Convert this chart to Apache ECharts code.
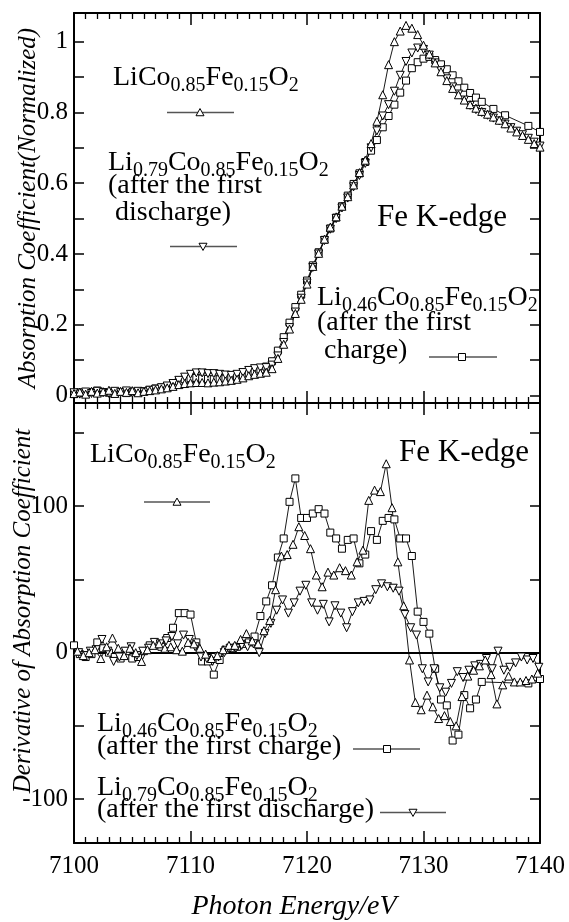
<!DOCTYPE html>
<html>
<head>
<meta charset="utf-8">
<script src="https://cdn.jsdelivr.net/npm/echarts/dist/echarts.min.js"></script>
<style>
html,body{margin:0;padding:0;background:#fff;}
#chart{width:569px;height:922px;}
</style>
</head>
<body>
<div id="chart"></div>
<script>
// ---------- DATA ----------
// Top panel: normalized absorption (energies in eV)
const topEnergy = [7100,7100.5,7101,7101.5,7102,7102.5,7103,7103.5,7104,7104.5,
  7105,7105.5,7106,7106.5,7107,7107.5,7108,7108.5,7109,7109.5,
  7110,7110.5,7111,7111.5,7112,7112.5,7113,7113.5,7114,7114.5,
  7115,7115.5,7116,7116.5,7117,7117.5,7118,7118.5,7119,7119.5,
  7120,7120.5,7121,7121.5,7122,7122.5,7123,7123.5,7124,7124.5,
  7125,7125.5,7126,7126.5,7127,7127.5,7128,7128.5,7129,7129.5,
  7130,7130.5,7131,7131.5,7132,7132.5,7133,7133.5,7134,7134.5,
  7135,7135.5,7136,7136.5,7137,7137.5,7138,7138.5,7139,7139.5,7140];
const topEnergyCharge = [7100,7100.5,7101,7101.5,7102,7102.5,7103,7103.5,7104,7104.5,
  7105,7105.5,7106,7106.5,7107,7107.5,7108,7108.5,7109,7109.5,
  7110,7110.5,7111,7111.5,7112,7112.5,7113,7113.5,7114,7114.5,
  7115,7115.5,7116,7116.5,7117,7117.5,7118,7118.5,7119,7119.5,
  7120,7120.5,7121,7121.5,7122,7122.5,7123,7123.5,7124,7124.5,
  7125,7125.5,7126,7126.5,7127,7127.5,7128,7128.5,7129,7129.5,
  7130,7130.5,7131,7131.5,7132,7132.5,7133,7133.5,7134,7134.5,
  7135,7136,7137,7139,7140];
const absPristine = [.006,.010,.004,.012,.007,.011,.015,.006,.012,.009,
  .014,.008,.012,.014,.016,.019,.022,.026,.031,.034,
  .036,.037,.037,.036,.038,.039,.041,.043,.046,.050,
  .056,.060,.063,.066,.076,.105,.145,.188,.232,.272,
  .315,.365,.402,.442,.476,.505,.535,.562,.595,.630,
  .665,.712,.775,.850,.935,1.000,1.030,1.046,1.038,1.020,
  .990,.965,.940,.915,.890,.868,.850,.835,.822,.812,
  .803,.795,.787,.778,.768,.756,.745,.735,.724,.712,.702];
const absDischarge = [.008,.004,.010,.006,.012,.008,.006,.012,.008,.013,
  .007,.012,.010,.015,.018,.022,.027,.034,.043,.052,
  .060,.064,.064,.062,.062,.060,.058,.057,.060,.065,
  .071,.076,.078,.079,.086,.112,.150,.192,.236,.275,
  .318,.362,.400,.438,.470,.500,.530,.558,.590,.622,
  .656,.700,.748,.790,.822,.860,.905,.944,.968,.982,
  .978,.962,.940,.918,.895,.872,.852,.835,.820,.808,
  .800,.792,.784,.776,.767,.757,.747,.737,.727,.716,.705];
const absCharge = [.004,.009,.006,.010,.014,.010,.008,.006,.010,.007,
  .011,.009,.012,.016,.020,.023,.027,.033,.040,.046,
  .049,.050,.048,.047,.046,.046,.048,.051,.054,.058,
  .063,.068,.074,.082,.097,.127,.165,.206,.250,.285,
  .325,.368,.405,.440,.472,.503,.535,.565,.598,.628,
  .660,.692,.722,.758,.790,.822,.856,.890,.925,.942,
  .952,.957,.948,.936,.922,.905,.888,.870,.855,.842,
  .830,.810,.792,.762,.745];

// Bottom panel: derivative of absorption coefficient
const derEnergyPristine = [7100.3,7100.8,7101.3,7101.8,7102.3,7102.8,7103.3,7103.8,7104.3,7104.8,
  7105.3,7105.8,7106.3,7106.8,7107.3,7107.8,7108.3,7108.8,7109.3,7109.8,
  7110.3,7110.8,7111.3,7111.8,7112.3,7112.8,7113.3,7113.8,7114.3,7114.8,
  7115.3,7115.8,7116.3,7116.8,7117.3,7117.8,7118.3,7118.8,7119.3,7119.8,
  7120.3,7120.8,7121.3,7121.8,7122.3,7122.8,7123.3,7123.8,7124.3,7124.8,
  7125.3,7125.8,7126.3,7126.8,7127.3,7127.8,7128.3,7128.8,7129.3,7129.8,
  7130.3,7130.8,7131.3,7131.8,7132.3,7132.8,7133.3,7133.8,7134.3,7134.8,
  7135.3,7135.8,7136.3,7136.8,7137.3,7137.8,7138.3,7138.8,7139.3,7139.8];
const derPristine = [1,-2,0,2,-4,4,10,3,-2,3,
  0,-6,2,5,6,3,4,2,1,7,
  6,3,-1,-4,-2,2,5,5,9,13,
  8,6,15,22,43,66,67,74,86,80,
  71,53,45,55,53,58,56,53,62,70,
  104,111,110,129,99,62,32,-5,-34,-39,
  -29,-37,-45,-43,-47,-50,-30,-16,-12,-9,
  -5,-15,-35,-22,-16,-20,-20,-19,-18,-14];
const derEnergyDischarge = [7100.4,7100.9,7101.4,7101.9,7102.4,7102.9,7103.4,7103.9,7104.4,7104.9,
  7105.4,7105.9,7106.4,7106.9,7107.4,7107.9,7108.4,7108.9,7109.4,7109.9,
  7110.4,7110.9,7111.4,7111.9,7112.4,7112.9,7113.4,7113.9,7114.4,7114.9,
  7115.4,7115.9,7116.4,7116.9,7117.4,7117.9,7118.4,7118.9,7119.4,7119.9,
  7120.4,7120.9,7121.4,7121.9,7122.4,7122.9,7123.4,7123.9,7124.4,7124.9,
  7125.4,7125.9,7126.4,7126.9,7127.4,7127.9,7128.4,7128.9,7129.4,7129.9,
  7130.4,7130.9,7131.4,7131.9,7132.4,7132.9,7133.4,7133.9,7134.4,7134.9,
  7135.4,7135.9,7136.4,7136.9,7137.4,7137.9,7138.4,7138.9,7139.4,7139.9];
const derDischarge = [0,-2,1,2,9,1,-6,-3,1,4,
  -2,1,3,7,6,8,11,6,12,9,
  4,-3,-4,-6,-3,0,3,3,5,4,
  6,0,13,20,29,36,27,34,42,46,
  34,29,33,21,32,27,17,28,34,35,
  36,43,47,45,44,42,26,17,12,-11,
  -20,-11,-24,-27,-21,-13,-17,-12,-9,-8,
  -4,-11,1,-12,-10,-7,-3,-5,-4,-10];
const derEnergyCharge = [7100,7100.5,7101,7101.5,7102,7102.5,7103,7103.5,7104,7104.5,
  7105,7105.5,7106,7106.5,7107,7107.5,7108,7108.5,7109,7109.5,
  7110,7110.5,7111,7111.5,7112,7112.5,7113,7113.5,7114,7114.5,
  7115,7115.5,7116,7116.5,7117,7117.5,7118,7118.5,7119,7119.5,
  7120,7120.5,7121,7121.5,7122,7122.5,7123,7123.5,7124,7124.5,
  7125,7125.5,7126,7126.5,7127,7127.5,7128,7128.5,7129,7129.5,
  7130,7130.5,7131,7131.5,7132,7132.5,7133,7133.5,7134,7134.5,
  7135,7139,7140];
const derCharge = [5,-1,-3,-1,7,3,0,-3,-4,1,
  -4,-3,1,5,6,4,10,17,27,27,
  26,7,-6,-6,-15,-5,2,3,4,6,
  7,11,25,35,46,65,78,103,119,92,
  92,95,98,95,82,78,71,77,78,61,
  67,83,77,90,92,91,78,78,66,28,
  21,13,-11,-32,-36,-60,-56,-29,-38,-32,
  -20,-21,-18];

const xTicks = [7100,7110,7120,7130,7140];
const topYTickLabels = ['0','0.2','0.4','0.6','0.8','1'];
const botYTickLabels = ['-100','0','100'];

// ---------- CHART ----------
const F = 'Liberation Serif';
const chart = echarts.init(document.getElementById('chart'), null, {renderer:'canvas', width:569, height:922});

const pair = (xs, ys) => ys.map((v, i) => [xs[i], v]);

const L = 74, R = 29, TOP1 = 13, H1 = 390, TOP2 = 403, H2 = 440;

function xAx(grid, pos, labels) {
  return {
    type:'value', gridIndex:grid, position:pos, min:7100, max:7140, interval:10,
    axisLine:{show:true, onZero:false, lineStyle:{color:'#000', width:2}},
    axisTick:{show:true, inside:true, length:12, lineStyle:{color:'#000', width:1.5}},
    minorTick:{show:true, splitNumber:10, length:6, lineStyle:{color:'#000', width:1.3}},
    splitLine:{show:false}, minorSplitLine:{show:false},
    axisLabel:{show:labels, margin:11, color:'#000', fontFamily:F, fontSize:25,
      formatter: v => (xTicks.indexOf(v) >= 0 ? String(v) : '')}
  };
}
function yAx(grid, pos, min, max, step, labels, fmt) {
  return {
    type:'value', gridIndex:grid, position:pos, min:min, max:max,
    minInterval:step, maxInterval:step, splitNumber:Math.round((max-min)/step),
    axisLine:{show:true, onZero:false, lineStyle:{color:'#000', width:2}},
    axisTick:{show:true, inside:true, length:10, lineStyle:{color:'#000', width:1.5}},
    splitLine:{show:false},
    axisLabel:{show:labels, margin:6, color:'#000', fontFamily:F, fontSize:25, formatter:fmt,
      showMinLabel:true, showMaxLabel:true}
  };
}
const topFmt = v => {
  const k = Math.round(v*10);
  if (Math.abs(v*10 - k) > 1e-6 || k % 2 !== 0) return '';
  const s = k === 0 ? '0' : (k === 10 ? '1' : (k/10).toFixed(1));
  return topYTickLabels.indexOf(s) >= 0 ? s : '';
};
const botFmt = v => {
  const s = String(Math.round(v));
  return (Math.abs(v - Math.round(v)) < 1e-6 && botYTickLabels.indexOf(s) >= 0) ? s : '';
};

const markerStyle = {color:'#fff', borderColor:'#000', borderWidth:1};
function ser(name, data, xi, yi, symbol, size, rotate) {
  return {
    name, type:'line', data, xAxisIndex:xi, yAxisIndex:yi,
    symbol, symbolSize:size, symbolRotate:rotate||0, showSymbol:true, showAllSymbol:true,
    lineStyle:{color:'#000', width:0.9}, itemStyle:markerStyle,
    emphasis:{disabled:true}, silent:true, animation:false, clip:false, z:3
  };
}

const SUB = {s:{fontSize:20, fontFamily:F, fill:'#000', padding:[16,0,0,0], verticalAlign:'middle'}};
function txt(x, y, text, size) {
  return {type:'text', x, y, silent:true, z:10,
    style:{text, fontSize:size||28, fontFamily:F, fill:'#000', align:'left', verticalAlign:'middle', rich:SUB}};
}
function title(x, y, text, size, rot) {
  return {type:'text', x, y, rotation:rot||0, silent:true, z:10,
    style:{text, fontSize:size, fontFamily:F, fontStyle:'italic', fill:'#000', align:'center', verticalAlign:'middle'}};
}
function tri(cx, cy, s, down) {
  const h = s*0.9;
  const pts = down
    ? [[cx - s/2, cy - h*0.45],[cx + s/2, cy - h*0.45],[cx, cy + h*0.55]]
    : [[cx, cy - h*0.55],[cx - s/2, cy + h*0.45],[cx + s/2, cy + h*0.45]];
  return {type:'polygon', shape:{points:pts}, silent:true, z:11, style:{fill:'#fff', stroke:'#000', lineWidth:1}};
}
function sq(cx, cy, s) {
  return {type:'rect', shape:{x:cx - s/2, y:cy - s/2, width:s, height:s}, silent:true, z:11, style:{fill:'#fff', stroke:'#000', lineWidth:1}};
}
function lline(x1, x2, y) {
  return {type:'line', shape:{x1, y1:y, x2, y2:y}, silent:true, z:10, style:{stroke:'#555', lineWidth:1.3}};
}

const LICO = 'LiCo{s|0.85}Fe{s|0.15}O{s|2}';
const LI079 = 'Li{s|0.79}Co{s|0.85}Fe{s|0.15}O{s|2}';
const LI046 = 'Li{s|0.46}Co{s|0.85}Fe{s|0.15}O{s|2}';

const option = {
  animation:false,
  backgroundColor:'#fff',
  grid:[
    {left:L, right:R, top:TOP1, height:H1, containLabel:false},
    {left:L, right:R, top:TOP2, height:H2, containLabel:false}
  ],
  xAxis:[ xAx(0,'bottom',false), xAx(0,'top',false), xAx(1,'top',false), xAx(1,'bottom',true) ],
  yAxis:[
    yAx(0,'left',-0.021,1.081,0.1,true,topFmt),
    yAx(0,'right',-0.021,1.081,0.1,false,topFmt),
    yAx(1,'left',-130,170.5,50,true,botFmt),
    yAx(1,'right',-130,170.5,50,false,botFmt)
  ],
  series:[
    ser('absCharge', pair(topEnergyCharge, absCharge), 0, 0, 'rect', 7),
    ser('absDischarge', pair(topEnergy, absDischarge), 0, 0, 'triangle', 8, 180),
    ser('absPristine', pair(topEnergy, absPristine), 0, 0, 'triangle', 8),
    Object.assign(ser('derCharge', pair(derEnergyCharge, derCharge), 3, 2, 'rect', 7), {
      markLine:{silent:true, symbol:['none','none'], label:{show:false}, animation:false,
        lineStyle:{color:'#000', width:2, type:'solid'}, emphasis:{disabled:true}, data:[{yAxis:0}], z:2}
    }),
    ser('derDischarge', pair(derEnergyDischarge, derDischarge), 3, 2, 'triangle', 8, 180),
    ser('derPristine', pair(derEnergyPristine, derPristine), 3, 2, 'triangle', 8)
  ],
  graphic:[
    // top panel annotations
    txt(113, 78, LICO), lline(167, 234, 112.5), tri(200, 112.5, 8),
    txt(108, 163, LI079), txt(108, 186, '(after the first'), txt(115, 213, 'discharge)'),
    lline(170, 237, 246.5), tri(203, 246.5, 8, true),
    txt(377, 218, 'Fe K-edge', 31),
    txt(317, 298, LI046), txt(317, 323, '(after the first'), txt(324, 351, 'charge)'),
    lline(429, 497, 357), sq(462, 357, 7),
    // bottom panel annotations
    txt(90, 455, LICO), lline(144, 210, 502), tri(177, 502, 8),
    txt(399, 453, 'Fe K-edge', 31),
    txt(97, 724, LI046), txt(97, 747, '(after the first charge)'),
    lline(353, 420, 749), sq(387, 749, 7),
    txt(97, 788, LI079), txt(97, 810, '(after the first discharge)'),
    lline(380, 446, 812.5), tri(413, 812.5, 8, true),
    // axis titles
    title(28, 208, 'Absorption Coefficient(Normalized)', 25, Math.PI/2),
    title(23, 611, 'Derivative of Absorption Coefficient', 25, Math.PI/2),
    title(294, 907, 'Photon Energy/eV', 28, 0)
  ]
};
chart.setOption(option);
</script>
</body>
</html>
